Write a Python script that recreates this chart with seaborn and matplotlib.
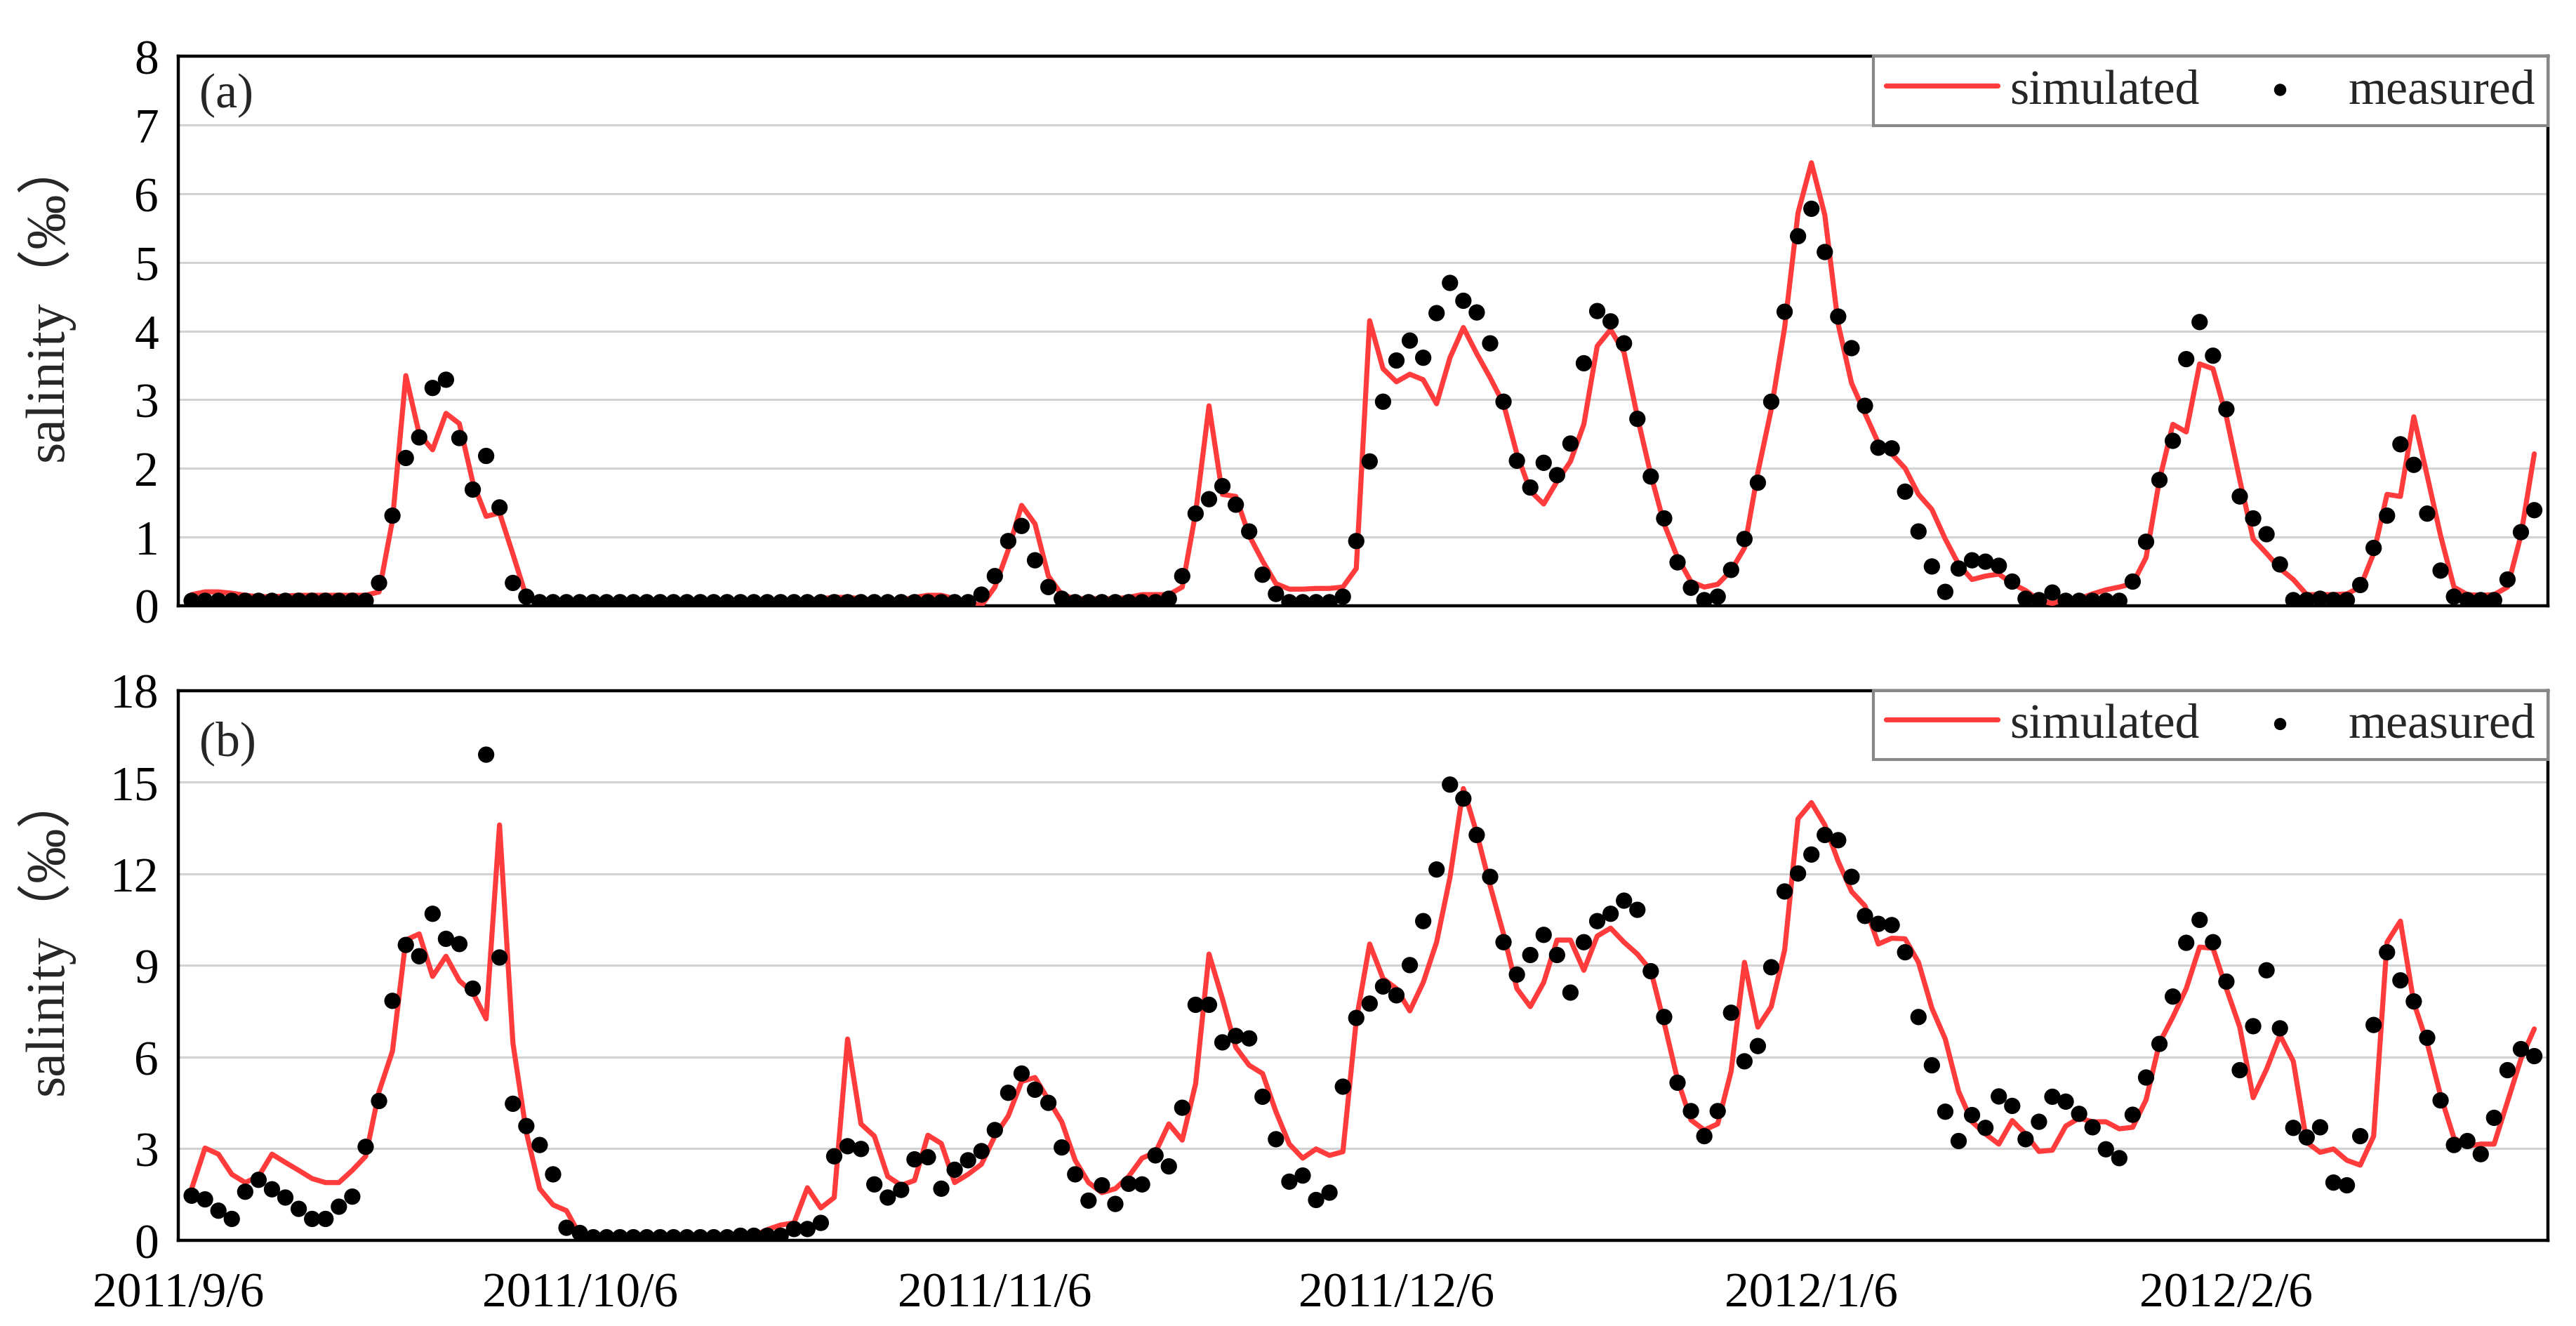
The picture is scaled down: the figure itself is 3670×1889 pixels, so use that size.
import matplotlib.pyplot as plt
import numpy as np
import pandas as pd
import seaborn as sns

# daily values, 2011/9/7 .. 2012/2/29
start_date = "2011-09-07"

sim_a = [
    0.16, 0.20, 0.20, 0.18, 0.15, 0.13, 0.13, 0.14, 0.15, 0.15,
    0.15, 0.15, 0.15, 0.15, 0.20, 1.24, 3.35, 2.50, 2.27, 2.80,
    2.65, 1.80, 1.30, 1.35, 0.75, 0.13, 0.07, 0.07, 0.07, 0.07,
    0.07, 0.07, 0.07, 0.07, 0.07, 0.07, 0.07, 0.07, 0.07, 0.07,
    0.07, 0.08, 0.08, 0.08, 0.08, 0.08, 0.08, 0.10, 0.12, 0.12,
    0.10, 0.08, 0.08, 0.08, 0.12, 0.15, 0.15, 0.10, 0.05, 0.00,
    0.27, 0.81, 1.46, 1.19, 0.43, 0.16, 0.10, 0.10, 0.10, 0.10,
    0.12, 0.16, 0.16, 0.16, 0.27, 1.35, 2.91, 1.62, 1.59, 1.02,
    0.65, 0.32, 0.24, 0.24, 0.25, 0.25, 0.27, 0.54, 4.15, 3.45,
    3.26, 3.37, 3.29, 2.94, 3.61, 4.05, 3.67, 3.32, 2.94, 2.21,
    1.67, 1.48, 1.81, 2.10, 2.64, 3.78, 4.02, 3.69, 2.75, 1.91,
    1.19, 0.70, 0.35, 0.27, 0.31, 0.51, 0.84, 1.94, 2.86, 4.05,
    5.72, 6.45, 5.69, 4.10, 3.24, 2.80, 2.37, 2.21, 2.00, 1.62,
    1.40, 0.97, 0.60, 0.38, 0.43, 0.46, 0.32, 0.22, 0.08, 0.03,
    0.10, 0.10, 0.17, 0.23, 0.27, 0.32, 0.70, 1.83, 2.64, 2.53,
    3.52, 3.45, 2.75, 1.83, 0.97, 0.76, 0.54, 0.38, 0.16, 0.16,
    0.16, 0.17, 0.27, 0.76, 1.62, 1.59, 2.75, 1.89, 1.02, 0.27,
    0.16, 0.15, 0.16, 0.27, 1.02, 2.21,
]

meas_a = [
    0.07, 0.07, 0.07, 0.07, 0.07, 0.07, 0.07, 0.07, 0.07, 0.07,
    0.07, 0.07, 0.07, 0.07, 0.33, 1.31, 2.15, 2.45, 3.17, 3.29,
    2.44, 1.69, 2.18, 1.43, 0.33, 0.13, 0.05, 0.05, 0.05, 0.05,
    0.05, 0.05, 0.05, 0.05, 0.05, 0.05, 0.05, 0.05, 0.05, 0.05,
    0.05, 0.05, 0.05, 0.05, 0.05, 0.05, 0.05, 0.05, 0.05, 0.05,
    0.05, 0.05, 0.05, 0.05, 0.05, 0.05, 0.05, 0.05, 0.05, 0.16,
    0.43, 0.94, 1.16, 0.66, 0.27, 0.10, 0.05, 0.05, 0.05, 0.05,
    0.05, 0.05, 0.05, 0.10, 0.43, 1.34, 1.55, 1.74, 1.47, 1.08,
    0.45, 0.17, 0.05, 0.05, 0.05, 0.05, 0.13, 0.94, 2.10, 2.97,
    3.57, 3.86, 3.61, 4.26, 4.70, 4.44, 4.27, 3.82, 2.97, 2.11,
    1.72, 2.08, 1.90, 2.36, 3.53, 4.29, 4.14, 3.82, 2.72, 1.88,
    1.27, 0.63, 0.26, 0.08, 0.13, 0.52, 0.97, 1.79, 2.97, 4.28,
    5.38, 5.78, 5.15, 4.21, 3.75, 2.91, 2.30, 2.29, 1.66, 1.08,
    0.57, 0.20, 0.54, 0.66, 0.64, 0.58, 0.35, 0.10, 0.08, 0.19,
    0.07, 0.07, 0.07, 0.07, 0.07, 0.35, 0.93, 1.83, 2.40, 3.59,
    4.13, 3.64, 2.86, 1.59, 1.27, 1.04, 0.60, 0.08, 0.08, 0.10,
    0.08, 0.08, 0.30, 0.84, 1.31, 2.35, 2.05, 1.34, 0.51, 0.13,
    0.08, 0.08, 0.08, 0.38, 1.07, 1.39,
]

sim_b = [
    1.69, 3.02, 2.82, 2.16, 1.89, 2.09, 2.82, 2.55, 2.29, 2.02,
    1.89, 1.89, 2.29, 2.75, 4.87, 6.19, 9.83, 10.03, 8.64, 9.30,
    8.50, 8.11, 7.25, 13.60, 6.46, 3.54, 1.69, 1.16, 0.97, 0.17,
    0.05, 0.05, 0.05, 0.05, 0.05, 0.05, 0.05, 0.05, 0.05, 0.05,
    0.05, 0.05, 0.15, 0.35, 0.50, 0.57, 1.72, 1.06, 1.40, 6.59,
    3.81, 3.41, 2.09, 1.80, 1.96, 3.44, 3.17, 1.89, 2.16, 2.49,
    3.41, 4.07, 5.20, 5.33, 4.60, 3.88, 2.62, 1.89, 1.56, 1.69,
    2.09, 2.69, 2.88, 3.81, 3.28, 5.13, 9.37, 7.91, 6.32, 5.73,
    5.46, 4.21, 3.15, 2.69, 2.99, 2.78, 2.90, 7.20, 9.70, 8.57,
    8.24, 7.51, 8.44, 9.76, 11.88, 14.79, 13.33, 11.61, 10.03, 8.24,
    7.65, 8.44, 9.83, 9.83, 8.84, 9.96, 10.22, 9.76, 9.37, 8.84,
    7.12, 5.26, 3.94, 3.61, 3.81, 5.53, 9.10, 6.98, 7.65, 9.50,
    13.80, 14.33, 13.60, 12.41, 11.42, 10.95, 9.70, 9.89, 9.87, 9.10,
    7.60, 6.59, 4.87, 3.88, 3.48, 3.15, 3.92, 3.48, 2.91, 2.95,
    3.74, 4.00, 3.88, 3.88, 3.65, 3.70, 4.60, 6.46, 7.31, 8.24,
    9.60, 9.56, 8.24, 6.98, 4.67, 5.60, 6.72, 5.86, 3.21, 2.88,
    2.99, 2.62, 2.46, 3.41, 9.76, 10.45, 7.78, 6.46, 4.74, 3.35,
    3.08, 3.15, 3.15, 4.54, 5.93, 6.92,
]

meas_b = [
    1.46, 1.34, 0.97, 0.70, 1.59, 1.98, 1.67, 1.40, 1.03, 0.70,
    0.70, 1.10, 1.43, 3.06, 4.56, 7.84, 9.67, 9.30, 10.69, 9.87,
    9.70, 8.24, 15.90, 9.26, 4.47, 3.74, 3.12, 2.16, 0.41, 0.24,
    0.10, 0.10, 0.10, 0.10, 0.10, 0.10, 0.10, 0.10, 0.10, 0.10,
    0.10, 0.15, 0.15, 0.15, 0.15, 0.37, 0.37, 0.57, 2.75, 3.08,
    2.99, 1.83, 1.40, 1.65, 2.65, 2.72, 1.69, 2.31, 2.62, 2.92,
    3.61, 4.83, 5.46, 4.93, 4.50, 3.04, 2.16, 1.30, 1.80, 1.19,
    1.85, 1.83, 2.78, 2.42, 4.34, 7.71, 7.71, 6.48, 6.69, 6.61,
    4.70, 3.31, 1.92, 2.12, 1.32, 1.56, 5.03, 7.28, 7.75, 8.31,
    8.02, 9.01, 10.45, 12.14, 14.92, 14.46, 13.27, 11.90, 9.76, 8.70,
    9.34, 10.00, 9.34, 8.11, 9.76, 10.45, 10.69, 11.12, 10.82, 8.81,
    7.31, 5.16, 4.23, 3.41, 4.23, 7.45, 5.86, 6.36, 8.94, 11.42,
    12.01, 12.63, 13.27, 13.10, 11.90, 10.62, 10.36, 10.32, 9.43, 7.31,
    5.73, 4.21, 3.25, 4.10, 3.68, 4.71, 4.40, 3.31, 3.88, 4.70,
    4.54, 4.14, 3.70, 2.98, 2.69, 4.11, 5.33, 6.43, 7.98, 9.74,
    10.49, 9.76, 8.47, 5.57, 7.01, 8.84, 6.94, 3.68, 3.37, 3.70,
    1.89, 1.80, 3.41, 7.05, 9.43, 8.51, 7.82, 6.63, 4.58, 3.12,
    3.25, 2.82, 4.01, 5.57, 6.26, 6.03,
]

x_start = "2011-09-06"
x_end = "2012-03-01"
ticks_a = ["2011-09-26", "2011-10-16", "2011-11-05", "2011-11-25",
           "2011-12-15", "2012-01-04", "2012-01-24", "2012-02-13"]
ticks_b = ["2011-09-06", "2011-10-06", "2011-11-06", "2011-12-06",
           "2012-01-06", "2012-02-06"]
tick_labels_b = ["2011/9/6", "2011/10/6", "2011/11/6", "2011/12/6",
                 "2012/1/6", "2012/2/6"]

sns.set_style("white")
plt.rcParams["font.family"] = ["Liberation Serif", "Noto Sans CJK SC"]

RED = "#ff3b3b"
FS = 25

dates = pd.date_range(start_date, periods=len(sim_a), freq="D")
df_a = pd.DataFrame({"date": dates, "sim": sim_a, "meas": meas_a})
df_b = pd.DataFrame({"date": dates, "sim": sim_b, "meas": meas_b})

fig = plt.figure(figsize=(18.35, 9.45), dpi=200)
ax_a = fig.add_axes([0.0692, 0.543, 0.9198, 0.414])
ax_b = fig.add_axes([0.0692, 0.0646, 0.9198, 0.4144])

panels = [
    (ax_a, df_a, 8, 1, "(a)", 0.93, ticks_a),
    (ax_b, df_b, 18, 3, "(b)", 0.905, ticks_b),
]

for ax, df, ymax, ystep, tag, tag_y, xticks in panels:
    sns.lineplot(data=df, x="date", y="sim", ax=ax, color=RED, lw=2.6,
                 label="simulated", zorder=3)
    sns.scatterplot(data=df, x="date", y="meas", ax=ax, color="black", s=70,
                    edgecolor="none", label="measured", zorder=4)

    ax.set_xlim(pd.Timestamp(x_start), pd.Timestamp(x_end))
    ax.set_ylim(0, ymax)
    ax.set_yticks(np.arange(0, ymax + ystep, ystep))
    ax.set_xticks(pd.to_datetime(xticks))
    ax.yaxis.grid(True, color="#d2d2d2", lw=1.1)
    ax.xaxis.grid(False)
    ax.set_axisbelow(True)

    for side in ["left", "bottom", "top", "right"]:
        ax.spines[side].set_visible(True)
        ax.spines[side].set_color("black")
        ax.spines[side].set_linewidth(1.6)

    ax.tick_params(axis="both", direction="in", length=10, width=1.6,
                   labelsize=FS, colors="black")
    ax.tick_params(axis="y", pad=10)
    ax.tick_params(axis="x", pad=16)

    ax.set_xlabel("")
    ax.set_ylabel("salinity（‰）", fontsize=28)
    ax.yaxis.set_label_coords(-0.044, 0.56)

    ax.text(0.009, tag_y, tag, transform=ax.transAxes, fontsize=FS,
            va="center", ha="left")

    leg = ax.legend(loc="upper right", ncol=2, frameon=True, fancybox=False,
                    fontsize=FS, borderaxespad=0, borderpad=0.25,
                    handlelength=2.3, handletextpad=0.25, columnspacing=0.5,
                    markerscale=0.75, framealpha=1)
    leg.get_frame().set_edgecolor("#888888")
    leg.get_frame().set_linewidth(1.5)

ax_a.set_xticklabels([])
ax_b.set_xticklabels(tick_labels_b)

fig.savefig("out.png", dpi=200)
plt.close(fig)
